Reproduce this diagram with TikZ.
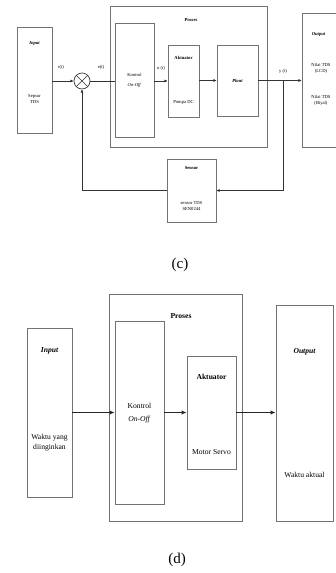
\documentclass[tikz,border=0pt]{standalone}
\usepackage{fontspec}
\setmainfont{Liberation Serif}
\usetikzlibrary{arrows.meta}
\tikzset{
  boxc/.style={draw=black!55, line width=0.7pt, inner sep=0pt},
  boxd/.style={draw=black!55, line width=0.9pt, inner sep=0pt},
  txc/.style={inner sep=0pt, font=\fontsize{4.6}{5}\selectfont},
  txd/.style={inner sep=0pt, font=\fontsize{7.6}{9}\selectfont},
  lnc/.style={draw=black!80, line width=0.7pt},
  arrc/.style={lnc, -{Latex[length=3.2pt,width=3pt]}},
  lnd/.style={draw=black!85, line width=1.1pt},
  arrd/.style={lnd, -{Latex[length=5pt,width=4.5pt]}},
  captext/.style={inner sep=0pt, font=\fontsize{15}{17}\selectfont}
}
\begin{document}
\begin{tikzpicture}[x=1pt,y=-1pt]
\useasboundingbox (0,0) rectangle (336,573);
\clip (0,0) rectangle (336,573);
\fill[white] (0,0) rectangle (336,573);
% ---------- (c) ----------
\node[boxc, minimum width=35pt, minimum height=106pt] (inC) at (34.5,80) {};
\node[txc, font=\fontsize{4.6}{5}\selectfont\bfseries\itshape] (inCt) at (34.5,43) {Input};
\node[txc, align=center] (inCs) at (34.5,99) {Sepsor\\[1pt]TDS};
\node[boxc, minimum width=157pt, minimum height=141pt] (prC) at (188.5,76.5) {};
\node[txc, font=\fontsize{4.6}{5}\selectfont\bfseries] (prCt) at (191,20) {Proses};
\node[boxc, minimum width=39pt, minimum height=114pt] (konC) at (134.5,80) {};
\node[txc, align=center] (konCt) at (134.5,80.5) {Kontrol\\[5pt]\textit{On-Off}};
\node[boxc, minimum width=31pt, minimum height=72pt] (aktC) at (183.5,81) {};
\node[txc, font=\fontsize{4.6}{5}\selectfont\bfseries] (aktCt) at (183.5,58) {Aktuator};
\node[txc] (aktCs) at (183.5,102) {Pompa DC};
\node[boxc, minimum width=41pt, minimum height=71pt] (plC) at (237.5,80.5) {};
\node[txc, font=\fontsize{4.6}{5}\selectfont\bfseries\itshape] (plCt) at (237.5,80.5) {Plant};
\node[boxc, minimum width=50pt, minimum height=134pt] (outC) at (327,80) {};
\node[txc, font=\fontsize{4.6}{5}\selectfont\bfseries\itshape] (outCt) at (318.5,34) {Output};
\node[txc, align=center] (outC1) at (321,68) {Nilai TDS\\[1pt](LCD)};
\node[txc, align=center] (outC2) at (321,100) {Nilai TDS\\[1pt](Biyal)};
\node[boxc, minimum width=49pt, minimum height=63pt] (senC) at (191.5,190.5) {};
\node[txc, font=\fontsize{4.6}{5}\selectfont\bfseries] (senCt) at (191.5,168) {Sensor};
\node[txc, align=center] (senCs) at (191.5,205.5) {sensor TDS\\[1pt]SEN0244};
\node[circle, draw=black!75, line width=0.7pt, minimum size=16pt, inner sep=0pt] (sumC) at (82,81) {};
\draw[lnc] (sumC.north west) -- (sumC.south east);
\draw[lnc] (sumC.north east) -- (sumC.south west);
\node[txc] (rt) at (61,67) {r(t)};
\node[txc] (et) at (101,67) {e(t)};
\node[txc] (ut) at (161,68) {u (t)};
\node[txc] (yt) at (283,71) {y (t)};
\coordinate (br) at (283,80.5);
\draw[arrc] (inC.east |- sumC) -- (sumC.west);
\draw[lnc] (sumC.east) -- (konC.west |- sumC);
\draw[arrc] (konC.east |- aktC) -- (aktC.west);
\draw[arrc] (aktC.east |- plC) -- (plC.west);
\draw[arrc] (plC.east) -- (outC.west |- plC.east);
\draw[arrc] (br) |- (senC.east);
\draw[arrc] (senC.west) -| (sumC.south);
\node[captext] (capc) at (180,265) {(c)};
% ---------- (d) ----------
\node[boxd, minimum width=45pt, minimum height=169pt] (inD) at (49.5,412.5) {};
\node[txd, font=\fontsize{7.6}{9}\selectfont\bfseries\itshape] (inDt) at (49.5,351) {Input};
\node[txd, align=center] (inDs) at (49.5,443) {Waktu yang\\[1pt]diinginkan};
\node[boxd, minimum width=133pt, minimum height=227pt] (prD) at (175.5,407.5) {};
\node[txd, font=\fontsize{7.6}{9}\selectfont\bfseries] (prDt) at (181,316) {Proses};
\node[boxd, minimum width=49pt, minimum height=183pt] (konD) at (139.5,412.5) {};
\node[txd, align=center] (konDt) at (139.5,413.5) {Kontrol\\[4pt]\textit{On-Off}};
\node[boxd, minimum width=49pt, minimum height=113pt] (aktD) at (211.5,412.5) {};
\node[txd, font=\fontsize{7.6}{9}\selectfont\bfseries] (aktDt) at (211.5,377) {Aktuator};
\node[txd] (aktDs) at (211.5,452) {Motor Servo};
\node[boxd, minimum width=57pt, minimum height=216pt] (outD) at (304.5,413) {};
\node[txd, font=\fontsize{7.6}{9}\selectfont\bfseries\itshape] (outDt) at (304.5,352) {Output};
\node[txd] (outDs) at (304.5,475) {Waktu aktual};
\draw[arrd] (inD.east |- konD) -- (konD.west);
\draw[arrd] (konD.east |- aktD) -- (aktD.west);
\draw[arrd] (aktD.east) -- (outD.west |- aktD);
\node[captext] (capd) at (177,560) {(d)};
\end{tikzpicture}
\end{document}
